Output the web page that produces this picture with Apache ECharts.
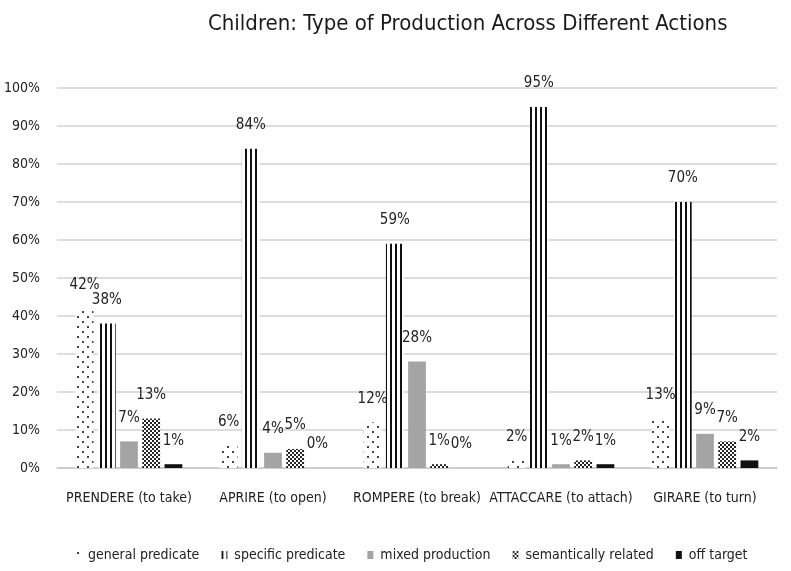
<!DOCTYPE html>
<html>
<head>
<meta charset="utf-8">
<script src="https://cdn.jsdelivr.net/npm/echarts@6/dist/echarts.min.js"></script>
<style>
  html, body { margin: 0; padding: 0; background: #fff; }
  #chart { width: 791px; height: 571px; }
</style>
</head>
<body>
<div id="chart"></div>
<script>
// Actions (x-axis categories)
const categories = [
  'PRENDERE (to take)',
  'APRIRE (to open)',
  'ROMPERE (to break)',
  'ATTACCARE (to attach)',
  'GIRARE (to turn)'
];

// Share of each production type per action, in percent
const generalPredicate    = [42, 6, 12, 2, 13];
const specificPredicate   = [38, 84, 59, 95, 70];
const mixedProduction     = [7, 4, 28, 1, 9];
const semanticallyRelated = [13, 5, 1, 2, 7];
const offTarget           = [1, 0, 0, 1, 2];

const seriesNames = [
  'general predicate',
  'specific predicate',
  'mixed production',
  'semantically related',
  'off target'
];

const FONT = '"Liberation Sans Narrow", "DejaVu Sans Condensed", "Liberation Sans", sans-serif';

// Small repeating fill patterns for the black-and-white bars
function makePattern(w, h, draw) {
  const c = document.createElement('canvas');
  c.width = w; c.height = h;
  const ctx = c.getContext('2d');
  ctx.fillStyle = '#ffffff';
  ctx.fillRect(0, 0, w, h);
  draw(ctx);
  return { image: c, repeat: 'repeat' };
}

const dotFill = makePattern(10, 10, ctx => {
  ctx.fillStyle = '#444';
  ctx.fillRect(2, 1, 2, 2);
  ctx.fillRect(7, 6, 2, 2);
});

const stripeFill = makePattern(5, 4, ctx => {
  ctx.fillStyle = '#111';
  ctx.fillRect(0, 0, 2, 4);
});

const checkFill = makePattern(4, 4, ctx => {
  ctx.fillStyle = '#222';
  ctx.fillRect(0, 0, 2, 2);
  ctx.fillRect(2, 2, 2, 2);
});

const fills = [dotFill, stripeFill, '#a4a4a4', checkFill, '#111111'];
const values = [generalPredicate, specificPredicate, mixedProduction, semanticallyRelated, offTarget];

const chart = echarts.init(document.getElementById('chart'), null, { renderer: 'canvas' });

chart.setOption({
  animation: false,
  backgroundColor: '#ffffff',
  title: {
    text: 'Children: Type of Production Across Different Actions',
    left: 203,
    top: 8,
    textStyle: { fontFamily: FONT, fontSize: 22, fontWeight: 'normal', color: '#1a1a1a' }
  },
  legend: {
    bottom: 4,
    left: 70,
    itemWidth: 6,
    itemHeight: 8,
    itemGap: 22,
    icon: 'rect',
    textStyle: { fontFamily: FONT, fontSize: 14, color: '#222', padding: [0, 0, 0, 2] },
    data: seriesNames
  },
  grid: { left: 57, right: 14, top: 88, bottom: 103, containLabel: false },
  xAxis: {
    type: 'category',
    data: categories,
    axisLine: { show: true, lineStyle: { color: '#c8c8c8', width: 1.5 } },
    axisTick: { show: false },
    axisLabel: { interval: 0, fontFamily: FONT, fontSize: 14, color: '#222', margin: 23 }
  },
  yAxis: {
    type: 'value',
    min: 0,
    max: 100,
    interval: 10,
    axisLine: { show: false },
    axisTick: { show: false },
    splitLine: { lineStyle: { color: '#d2d2d2', width: 1.5 } },
    axisLabel: { fontFamily: FONT, fontSize: 14, color: '#222', margin: 17, formatter: '{value}%' }
  },
  series: seriesNames.map((name, i) => ({
    name: name,
    type: 'bar',
    data: values[i],
    barGap: '25%',
    barCategoryGap: '26%',
    itemStyle: { color: fills[i] },
    label: {
      show: true,
      position: 'top',
      distance: 16,
      formatter: '{c}%',
      fontFamily: FONT,
      fontSize: 15,
      color: '#222'
    }
  }))
});
</script>
</body>
</html>
